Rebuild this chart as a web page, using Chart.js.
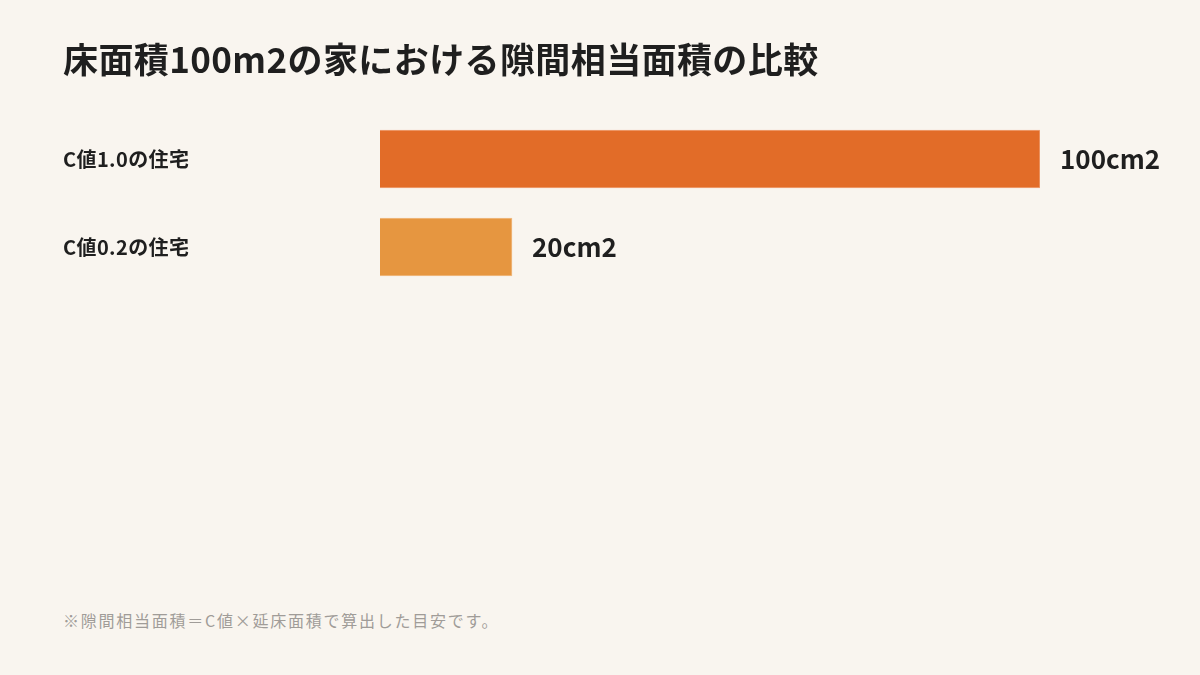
<!DOCTYPE html>
<html><head><meta charset="utf-8">
<script src="https://cdn.jsdelivr.net/npm/chart.js@4"></script>
<style>
html,body{margin:0;padding:0;background:#F9F5EF;}
#wrap{position:relative;width:1200px;height:675px;}
#c{position:absolute;left:0;top:0;}
#note{position:absolute;left:63px;top:608px;font-family:"Noto Sans CJK JP";font-size:16px;color:#a09c98;letter-spacing:1.75px;}
</style></head>
<body><div id="wrap"><canvas id="c" width="1200" height="311"></canvas>
<div id="note">※隙間相当面積＝C値×延床面積で算出した目安です。</div></div>
<script>
const titleText = '床面積100m2の家における隙間相当面積の比較';
const categories = ['C値1.0の住宅', 'C値0.2の住宅'];
const values = [100, 20];
const valueLabels = ['100cm2', '20cm2'];
const barColors = ['#E26C28', '#E69640'];

const spacingPlugin = {
  id: 'spacing',
  beforeDraw(chart) { chart.ctx.letterSpacing = '0.4px'; },
  afterDraw(chart) { chart.ctx.letterSpacing = '0px'; }
};

const valuePlugin = {
  id: 'valueLabels',
  afterDatasetsDraw(chart) {
    const ctx = chart.ctx;
    const meta = chart.getDatasetMeta(0);
    ctx.save();
    ctx.letterSpacing = '0px';
    ctx.font = 'bold 26px "Noto Sans CJK JP"';
    ctx.fillStyle = '#1f1f1f';
    ctx.textBaseline = 'middle';
    ctx.textAlign = 'left';
    meta.data.forEach((bar, i) => {
      ctx.fillText(valueLabels[i], bar.x + 20, bar.y);
    });
    ctx.restore();
  }
};

new Chart(document.getElementById('c'), {
  type: 'bar',
  data: {
    labels: categories,
    datasets: [{
      data: values,
      backgroundColor: barColors,
      borderColor: ['#EFA57A', '#F0BE88'],
      borderWidth: 1,
      barThickness: 58
    }]
  },
  options: {
    indexAxis: 'y',
    responsive: false,
    animation: false,
    layout: { padding: { left: 63, right: 160, top: 0, bottom: 20 } },
    plugins: {
      legend: { display: false },
      tooltip: { enabled: false },
      title: {
        display: true,
        text: titleText,
        align: 'start',
        color: '#1f1f1f',
        font: { family: '"Noto Sans CJK JP"', size: 35, weight: 'bold', lineHeight: 1.2 },
        padding: { top: 39, bottom: 34 }
      }
    },
    scales: {
      x: { display: false, min: 0, max: 100 },
      y: {
        grid: { display: false },
        border: { display: false },
        afterFit(scale) { scale.width = 317; },
        ticks: {
          crossAlign: 'far',
          color: '#1f1f1f',
          padding: 0,
          font: { family: '"Noto Sans CJK JP"', size: 20, weight: 'bold' }
        }
      }
    }
  },
  plugins: [spacingPlugin, valuePlugin]
});
</script></body></html>
